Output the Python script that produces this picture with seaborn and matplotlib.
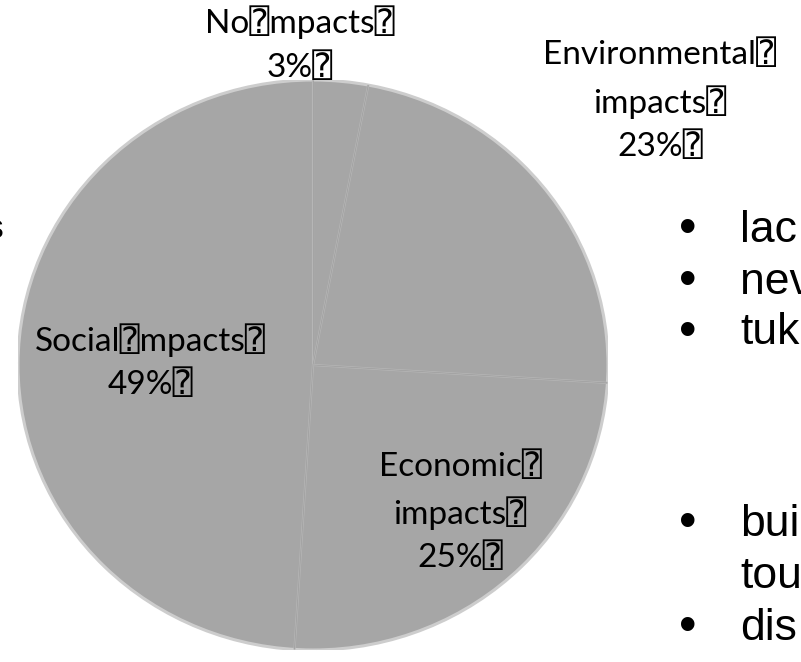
import matplotlib
matplotlib.use("Agg")
import numpy as np
import matplotlib.pyplot as plt
from matplotlib.patches import Circle
import seaborn as sns

sns.set_theme(style="white")
plt.rcParams["font.family"] = ["Lato", "DejaVu Sans", "DejaVu Sans Mono"]

# Share of reported impacts
categories = ["No Impacts", "Environmental impacts", "Economic impacts", "Social impacts"]
shares = [3, 23, 25, 49]
slice_labels = [["No\u2370mpacts\u2370", "3%\u2370"],
                ["Environmental\u2370", "impacts\u2370", "23%\u2370"],
                ["Economic\u2370", "impacts\u2370", "25%\u2370"],
                ["Social\u2370mpacts\u2370", "49%\u2370"]]
bullet_lines = ["lac", "nev", "tuk", "bui", "tou", "dis"]
bullet_marks = [True, True, True, True, False, True]

W, H = 801, 662
fig = plt.figure(figsize=(W / 100, H / 100), dpi=100)
fig.patch.set_facecolor("white")


def fx(px):
    return px / W


def fy(py):
    return 1 - py / H


# pie axes: bounding box in pixels (left, top, right, bottom)
L, T, R, B = 18, 80, 608, 650
ax = fig.add_axes([fx(L), fy(B), (R - L) / W, (B - T) / H])
pal = sns.color_palette(["#a6a6a6"] * len(shares))
ax.pie(shares, colors=pal, startangle=90, counterclock=False, radius=1,
       wedgeprops=dict(edgecolor="none", linewidth=0))
ax.set_aspect("auto")
ax.set_xlim(-1, 1)
ax.set_ylim(-1, 1)

# soft rim
ax.add_patch(Circle((0, 0), 1.0, fill=False, edgecolor="#cdcdcd", lw=2.2, zorder=3))

# slice separators
bounds = np.cumsum([0] + shares[:-1]) / np.sum(shares)
for b in bounds:
    ang = np.deg2rad(90 - 360 * b)
    ax.plot([0, np.cos(ang)], [0, np.sin(ang)], color="#b6b6b6", lw=1.6,
            solid_capstyle="butt", zorder=4)
    ax.plot([0, np.cos(ang)], [0, np.sin(ang)], color="#9d9d9d", lw=0.5,
            solid_capstyle="butt", zorder=4)
ax.axis("off")

# slice labels: centre x and y of each text line, in pixels
label_x = [300, 660, 460, 150]
label_y = [[22, 68], [55, 102, 147], [467, 513, 558], [340, 385]]
for lines, x, ys in zip(slice_labels, label_x, label_y):
    for line, y in zip(lines, ys):
        fig.text(fx(x), fy(y), line, ha="center", va="center", fontsize=24,
                 color="black")

# bullet list on the right
bullet_y = [230, 282, 333, 524, 577, 628]
for word, has_mark, y in zip(bullet_lines, bullet_marks, bullet_y):
    if has_mark:
        fig.text(fx(688), fy(y), "\u2022", ha="center", va="center",
                 fontsize=36, color="black", family="Liberation Sans")
    fig.text(fx(740), fy(y), word, ha="left", va="center",
             fontsize=32, color="black", family="Liberation Sans")

# fragment at left edge
fig.text(fx(3), fy(229), "s", ha="right", va="center", fontsize=24,
         color="black", family="Liberation Sans")

fig.savefig("out.png", dpi=100, facecolor="white")
